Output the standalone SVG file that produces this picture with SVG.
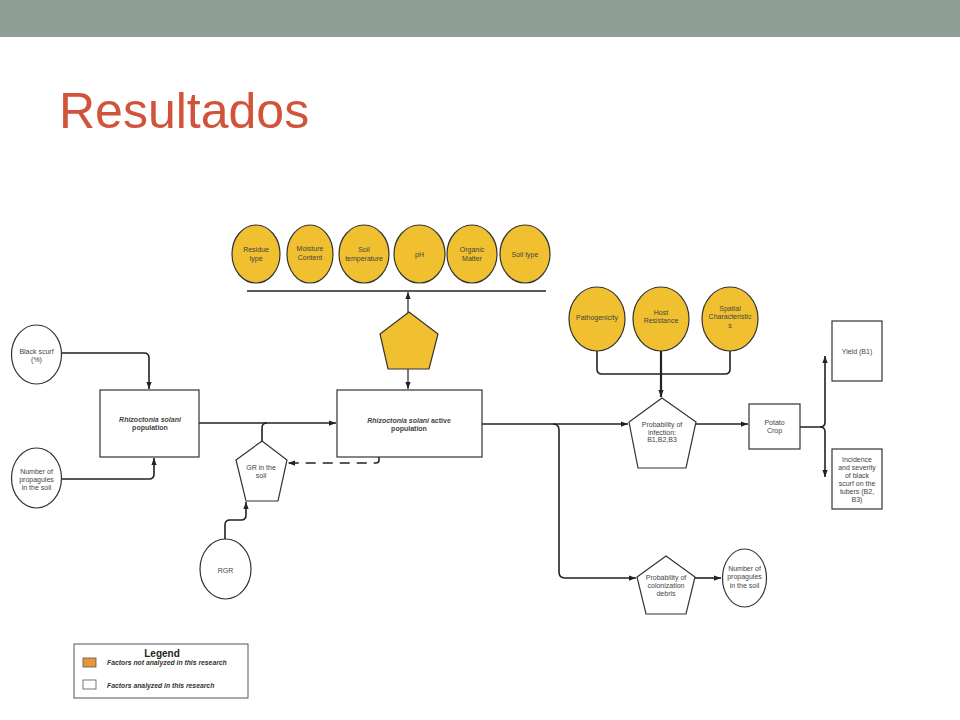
<svg xmlns="http://www.w3.org/2000/svg" width="960" height="720" viewBox="0 0 960 720">
<defs>
<marker id="arr" viewBox="0 0 8 6" markerWidth="7" markerHeight="6" refX="8" refY="3" orient="auto" markerUnits="userSpaceOnUse">
<path d="M0,0 L8,3 L0,6 z" fill="#222"/>
</marker>
<style>
.y{fill:#f0c030;stroke:#333;stroke-width:1.2}
.w{fill:#fff;stroke:#333;stroke-width:1.2}
.t{font-family:"Liberation Sans",Arial,sans-serif;font-size:7px;fill:#444;text-anchor:middle}
.b{font-weight:bold}
.c{fill:none;stroke:#222;stroke-width:1.6}
.lg{font-family:"Liberation Sans",Arial,sans-serif;font-size:6.8px;font-style:italic;font-weight:bold;fill:#333}
</style>
</defs>
<rect x="0" y="0" width="960" height="720" fill="#fff"/>
<rect x="0" y="0" width="960" height="37" fill="#8f9e96"/>
<text x="59" y="128" font-family="Liberation Sans,Arial,sans-serif" font-size="50" fill="#d0533a">Resultados</text>

<g id="connectors">
<path class="c" d="M247,291 H546"/>
<path class="c" d="M62,353 H144 Q149,353 149,358 V389" marker-end="url(#arr)"/>
<path class="c" d="M62,479 H149 Q154,479 154,474 V458" marker-end="url(#arr)"/>
<path class="c" d="M199,423 H336" marker-end="url(#arr)"/>
<path class="c" d="M262,441 V428 Q262,423 267,423"/>
<path class="c" d="M379,457 V460 Q379,463 376,463 H288" stroke-dasharray="10,7" marker-end="url(#arr)"/>
<path class="c" d="M225,539 V525 Q225,520 230,520 H241 Q246,520 246,515 V502" marker-end="url(#arr)"/>
<path class="c" style="stroke-width:1.2" d="M408,340 V292" marker-end="url(#arr)"/>
<path class="c" style="stroke-width:1.2" d="M408,340 V389" marker-end="url(#arr)"/>
<path class="c" d="M482,424 H628" marker-end="url(#arr)"/>
<path class="c" d="M553,424 Q559,424 559,430 V572 Q559,578 565,578 H636" marker-end="url(#arr)"/>
<path class="c" d="M597,351 V369 Q597,374 602,374 H725 Q730,374 730,369 V351"/>
<path class="c" style="stroke-width:2.2" d="M661,351 V397" marker-end="url(#arr)"/>
<path class="c" d="M696,424 H748" marker-end="url(#arr)"/>
<path class="c" d="M800,427 H820 Q825,427 825,422 V356" marker-end="url(#arr)"/>
<path class="c" d="M820,427 Q825,427 825,432 V477" marker-end="url(#arr)"/>
<path class="c" d="M695,578 H721" marker-end="url(#arr)"/>
</g>

<g id="residue"><ellipse class="y" cx="256" cy="254" rx="24" ry="29"/><text class="t"><tspan x="256" y="251.5">Residue</tspan><tspan x="256" y="260.5">type</tspan></text></g>
<g id="moisture"><ellipse class="y" cx="310" cy="254" rx="23" ry="29"/><text class="t"><tspan x="310" y="251">Moisture</tspan><tspan x="310" y="259.5">Content</tspan></text></g>
<g id="soiltemp"><ellipse class="y" cx="364" cy="254" rx="25" ry="29"/><text class="t"><tspan x="364" y="251.5">Soil</tspan><tspan x="364" y="260.5">temperature</tspan></text></g>
<g id="ph"><ellipse class="y" cx="419.5" cy="254" rx="25.5" ry="29"/><text class="t" x="419.5" y="256.5">pH</text></g>
<g id="organic"><ellipse class="y" cx="472" cy="254" rx="25" ry="29"/><text class="t"><tspan x="472" y="251.5">Organic</tspan><tspan x="472" y="260.5">Matter</tspan></text></g>
<g id="soiltype"><ellipse class="y" cx="525" cy="254" rx="25" ry="29"/><text class="t" x="525" y="256.5">Soil type</text></g>

<g id="factorpent"><polygon class="y" points="409,312 438,334 429,369 388,369 380,334"/></g>

<g id="blackscurf"><ellipse class="w" cx="36.5" cy="354.5" rx="25" ry="29.5"/><text class="t"><tspan x="36.5" y="353.5">Black scurf</tspan><tspan x="36.5" y="361.5">(%)</tspan></text></g>
<g id="propleft"><ellipse class="w" cx="36.5" cy="478" rx="25" ry="30"/><text class="t"><tspan x="36.5" y="473.5">Number of</tspan><tspan x="36.5" y="481.5">propagules</tspan><tspan x="36.5" y="489.5">in the soil</tspan></text></g>
<g id="rspop"><rect class="w" x="100" y="390" width="99" height="67"/><text class="t b"><tspan x="150" y="421.5" font-style="italic">Rhizoctonia solani</tspan><tspan x="150" y="430">population</tspan></text></g>
<g id="gr"><polygon class="w" points="262,441 287,460 278,501 246,501 236,460"/><text class="t"><tspan x="261" y="469.5">GR in the</tspan><tspan x="261" y="477.5">soil</tspan></text></g>
<g id="rgr"><ellipse class="w" cx="225.5" cy="569" rx="25.5" ry="30"/><text class="t" x="225.5" y="572.5">RGR</text></g>
<g id="rsactive"><rect class="w" x="337" y="390" width="145" height="67"/><text class="t b"><tspan x="409" y="422.5"><tspan font-style="italic">Rhizoctonia solani</tspan> active</tspan><tspan x="409" y="430.5">population</tspan></text></g>

<g id="pathogenicity"><ellipse class="y" cx="597" cy="319" rx="28" ry="32"/><text class="t" x="597" y="319.5">Pathogenicity</text></g>
<g id="host"><ellipse class="y" cx="661" cy="319" rx="28" ry="32"/><text class="t"><tspan x="661" y="315">Host</tspan><tspan x="661" y="323">Resistance</tspan></text></g>
<g id="spatial"><ellipse class="y" cx="730" cy="319" rx="28" ry="32"/><text class="t"><tspan x="730" y="310.5">Spatial</tspan><tspan x="730" y="319">Characteristic</tspan><tspan x="730" y="327.5">s</tspan></text></g>

<g id="infection"><polygon class="w" points="662,398 696,422 686,468 638,468 629,422"/><text class="t"><tspan x="662" y="426.5">Probability of</tspan><tspan x="662" y="434.5">infection:</tspan><tspan x="662" y="442">B1,B2,B3</tspan></text></g>
<g id="potato"><rect class="w" x="749" y="404" width="51" height="45"/><text class="t"><tspan x="774.5" y="424.5">Potato</tspan><tspan x="774.5" y="433">Crop</tspan></text></g>
<g id="yield"><rect class="w" x="832" y="321" width="50" height="60"/><text class="t" x="857" y="353.5">Yield (B1)</text></g>
<g id="incidence"><rect class="w" x="832" y="449" width="50" height="60"/><text class="t"><tspan x="857" y="461.5">Incidence</tspan><tspan x="857" y="469.5">and severity</tspan><tspan x="857" y="477.5">of black</tspan><tspan x="857" y="485.5">scurf on the</tspan><tspan x="857" y="494">tubers (B2,</tspan><tspan x="857" y="501.5">B3)</tspan></text></g>

<g id="colonization"><polygon class="w" points="666,556 695,577 686,614 646,614 637,577"/><text class="t"><tspan x="666" y="580">Probability of</tspan><tspan x="666" y="588">colonization</tspan><tspan x="666" y="596">debris</tspan></text></g>
<g id="propright"><ellipse class="w" cx="744.5" cy="578" rx="22" ry="29"/><text class="t"><tspan x="744.5" y="570.5">Number of</tspan><tspan x="744.5" y="579">propagules</tspan><tspan x="744.5" y="587.5">in the soil</tspan></text></g>

<g id="legend">
<rect x="74" y="644" width="174" height="54" fill="#fff" stroke="#555" stroke-width="1"/>
<text x="162" y="657" font-family="Liberation Sans,Arial,sans-serif" font-size="10" font-weight="bold" fill="#222" text-anchor="middle">Legend</text>
<rect x="83" y="658" width="13" height="9" fill="#e8963a" stroke="#555" stroke-width="0.8"/>
<text class="lg" x="107" y="665">Factors not analyzed in this research</text>
<rect x="83" y="680" width="13" height="9" fill="#fff" stroke="#555" stroke-width="0.8"/>
<text class="lg" x="107" y="688">Factors analyzed in this research</text>
</g>
</svg>
